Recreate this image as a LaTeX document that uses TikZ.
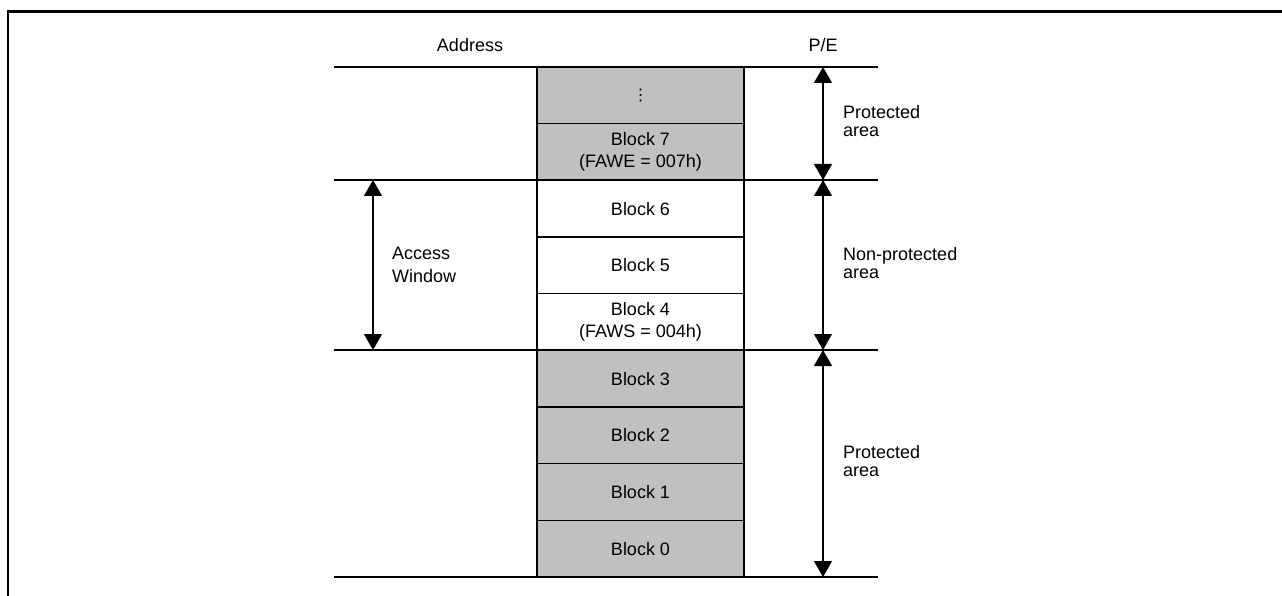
\documentclass[tikz,border=0pt]{standalone}
\usepackage{fontspec}
\setmainfont{Liberation Sans}
\newfontfamily\dotsfont{DejaVu Sans}
\usetikzlibrary{arrows.meta}
\definecolor{blkgray}{RGB}{192,192,192}
\tikzstyle{blk}=[draw=black, line width=1.4pt, minimum width=207pt, minimum height=56.7pt, inner sep=0pt, align=center, font=\fontsize{18}{20.5}\selectfont]
\tikzstyle{prot}=[blk, fill=blkgray]
\tikzstyle{lbl}=[inner sep=0pt, align=left, font=\fontsize{18}{18.5}\selectfont]
\tikzstyle{edge}=[line width=1.6pt]
\tikzstyle{span}=[line width=1.3pt, {Triangle[width=18pt,length=16pt]}-{Triangle[width=18pt,length=16pt]}]

\begin{document}
\begin{tikzpicture}[x=1pt, y=-1pt]
                                        \useasboundingbox (0,0) rectangle (1282,596);
                                        \draw[line width=2.7pt] (8,596) -- (8,11.3) -- (1282,11.3);

                                        \node[lbl] (addr) at (470,45) {Address};
                                        \node[lbl] (pe) at (823,45) {P/E};

                                        \node[prot] (more) at (640.5,95.3) {\dotsfont\fontsize{16}{16}\selectfont ⋮};
                                        \node[prot] (b7) at (640.5,152) {Block 7\\[1.5pt](FAWE = 007h)};
                                        \node[blk] (b6) at (640.5,208.7) {Block 6};
                                        \node[blk] (b5) at (640.5,265.3) {Block 5};
                                        \node[blk] (b4) at (640.5,322) {Block 4\\[1.5pt](FAWS = 004h)};
                                        \node[prot] (b3) at (640.5,378.7) {Block 3};
                                        \node[prot] (b2) at (640.5,435.3) {Block 2};
                                        \node[prot] (b1) at (640.5,492) {Block 1};
                                        \node[prot] (b0) at (640.5,548.7) {Block 0};

                                        \coordinate (l0) at (334,67);
                                        \coordinate (l1) at (334,180);
                                        \coordinate (l2) at (334,350);
                                        \coordinate (l3) at (334,577);
                                        \coordinate (r0) at (878,67);
                                        \coordinate (r1) at (878,180);
                                        \coordinate (r2) at (878,350);
                                        \coordinate (r3) at (878,577);

                                        \draw[edge] (l0) -- (r0);
                                        \draw[edge] (l1) -- (r1);
                                        \draw[edge] (l2) -- (r2);
                                        \draw[edge] (l3) -- (r3);

                                        \coordinate (pe0) at (823,67);
                                        \coordinate (pe1) at (823,180);
                                        \coordinate (pe2) at (823,350);
                                        \coordinate (pe3) at (823,577);
                                        \coordinate (aw0) at (373,180);
                                        \coordinate (aw1) at (373,350);

                                        \draw[span] (pe0) -- (pe1);
                                        \draw[span] (pe1) -- (pe2);
                                        \draw[span] (pe2) -- (pe3);
                                        \draw[span] (aw0) -- (aw1);

                                        \node[lbl, anchor=west] (topprot) at (843,121) {Protected\\area};
                                        \node[lbl, anchor=west] (nonprot) at (843,263) {Non-protected\\area};
                                        \node[lbl, anchor=west] (lowprot) at (843,461) {Protected\\area};
                                        \node[lbl, anchor=west] (window) at (392,265) {Access\\[4pt]Window};
                                    \end{tikzpicture}
\end{document}
